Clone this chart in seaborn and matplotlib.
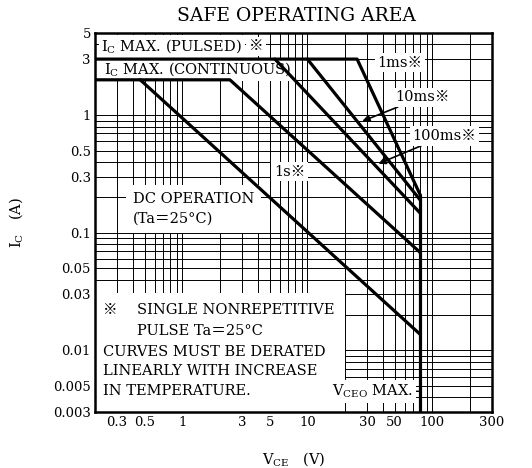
import matplotlib
matplotlib.use("Agg")
import matplotlib.pyplot as plt
import matplotlib.ticker as mticker
from matplotlib.patches import Rectangle
import numpy as np
import pandas as pd
import seaborn as sns

# 曲線資料 (VCE [V], IC [A])
ms1_vce = [0.2, 25, 80]
ms1_ic = [3, 3, 0.21]
ms10_vce = [10, 80]
ms10_ic = [3, 0.19]
ms100_vce = [5.5, 80]
ms100_ic = [3, 0.147]
s1_vce = [0.2, 2.4, 80]
s1_ic = [2, 2, 0.068]
dc_vce = [0.46, 80]
dc_ic = [2, 0.0137]
vceo_vce = [80, 80]
vceo_ic = [0.21, 0.003]

x_ticks = [0.3, 0.5, 1, 3, 5, 10, 30, 50, 100, 300]
x_ticklabels = ["0.3", "0.5", "1", "3", "5", "10", "30", "50", "100", "300"]
y_ticks = [0.003, 0.005, 0.01, 0.03, 0.05, 0.1, 0.3, 0.5, 1, 3, 5]
y_ticklabels = ["0.003", "0.005", "0.01", "0.03", "0.05", "0.1", "0.3", "0.5", "1", "3", "5"]

sns.set_theme(style="white")
plt.rcParams["font.family"] = ["DejaVu Serif", "Noto Sans CJK JP"]
plt.rcParams["mathtext.fontset"] = "dejavuserif"
plt.rcParams["text.color"] = "black"
plt.rcParams["axes.labelcolor"] = "black"

curves = {
    "1ms": (ms1_vce, ms1_ic),
    "10ms": (ms10_vce, ms10_ic),
    "100ms": (ms100_vce, ms100_ic),
    "1s": (s1_vce, s1_ic),
    "DC": (dc_vce, dc_ic),
    "VCEO": (vceo_vce, vceo_ic),
}
rows = []
for name, (xs, ys) in curves.items():
    for i, (xv, yv) in enumerate(zip(xs, ys)):
        rows.append({"curve": name, "order": i, "vce": xv, "ic": yv})
df = pd.DataFrame(rows)

fig = plt.figure(figsize=(5.32, 4.68), dpi=100)
ax = fig.add_axes([95 / 532, 56 / 468, 397 / 532, 379 / 468])
ax.set_xscale("log")
ax.set_yscale("log")

sns.lineplot(data=df, x="vce", y="ic", units="curve", estimator=None, sort=False,
             color="black", lw=2.3, ax=ax, zorder=5)

ax.set_xlim(0.2, 300)
ax.set_ylim(0.003, 5)

ax.xaxis.set_major_locator(mticker.FixedLocator(x_ticks))
ax.xaxis.set_major_formatter(mticker.FixedFormatter(x_ticklabels))
ax.yaxis.set_major_locator(mticker.FixedLocator(y_ticks))
ax.yaxis.set_major_formatter(mticker.FixedFormatter(y_ticklabels))
ax.xaxis.set_minor_locator(mticker.LogLocator(base=10, subs=np.arange(1, 10), numticks=30))
ax.yaxis.set_minor_locator(mticker.LogLocator(base=10, subs=np.arange(1, 10), numticks=30))
ax.xaxis.set_minor_formatter(mticker.NullFormatter())
ax.yaxis.set_minor_formatter(mticker.NullFormatter())
ax.tick_params(which="both", length=0, labelsize=9.5, colors="black", pad=3)
ax.grid(which="both", color="black", lw=0.7)
ax.set_axisbelow(True)
for sp in ax.spines.values():
    sp.set_color("black")
    sp.set_linewidth(1.8)

ax.set_xlabel(r"V$_\mathrm{CE}$   (V)", fontsize=10.5, labelpad=15, color="black")
ax.set_ylabel(r"I$_\mathrm{C}$   (A)", fontsize=10.5, labelpad=20, color="black")

fig.text(0.557, 0.965, "SAFE OPERATING AREA", ha="center", va="center", fontsize=13.5)

box = dict(facecolor="white", edgecolor="none", pad=2)
fs = 10.5
t = ax.text(0.225, 3.85, r"I$_\mathrm{C}$ MAX. (PULSED)", fontsize=fs, va="center", bbox=box, zorder=3)
ax.annotate("※", xy=(1, 0.5), xycoords=t, xytext=(5, 0), textcoords="offset points",
            fontsize=fs, va="center", bbox=box, zorder=3)
ax.text(0.235, 2.45, r"I$_\mathrm{C}$ MAX. (CONTINUOUS)", fontsize=fs, va="center", bbox=box, zorder=3)
ax.text(55, 2.8, "1ms※", fontsize=fs, ha="center", va="center", bbox=box, zorder=3)
ax.annotate("10ms※", xy=(27.5, 0.89), xytext=(83, 1.42), fontsize=fs, ha="center", va="center",
            bbox=box, zorder=3,
            arrowprops=dict(arrowstyle="-|>", color="black", lw=1.2, shrinkA=0, shrinkB=0))
ax.annotate("100ms※", xy=(37, 0.387), xytext=(125, 0.666), fontsize=fs, ha="center", va="center",
            bbox=box, zorder=3,
            arrowprops=dict(arrowstyle="-|>", color="black", lw=1.2, shrinkA=0, shrinkB=0))
ax.text(7.2, 0.332, "1s※", fontsize=fs, ha="center", va="center", bbox=box, zorder=3)
ax.text(0.4, 0.16, "DC OPERATION\n(Ta＝25°C)", fontsize=fs, va="center", linespacing=1.5,
        bbox=dict(facecolor="white", edgecolor="none", pad=5), zorder=3)

ax.add_patch(Rectangle((0, 0), 0.63, 0.314, transform=ax.transAxes, facecolor="white",
                       edgecolor="none", zorder=2))
ax.text(0.233, 0.0222, "※", fontsize=fs, va="center", zorder=3)
ax.text(0.436, 0.0222, "SINGLE NONREPETITIVE", fontsize=fs, va="center", zorder=3)
ax.text(0.436, 0.0147, "PULSE Ta＝25°C", fontsize=fs, va="center", zorder=3)
ax.text(0.233, 0.0098, "CURVES MUST BE DERATED", fontsize=fs, va="center", zorder=3)
ax.text(0.233, 0.00667, "LINEARLY WITH INCREASE", fontsize=fs, va="center", zorder=3)
ax.text(0.233, 0.00452, "IN TEMPERATURE.", fontsize=fs, va="center", zorder=3)
ax.annotate(r"V$_\mathrm{CEO}$ MAX.", xy=(80, 0.0045), xytext=(70, 0.0045), fontsize=fs,
            ha="right", va="center", bbox=box, zorder=3,
            arrowprops=dict(arrowstyle="-", color="black", lw=1, shrinkA=0, shrinkB=0))

fig.savefig("out.png", dpi=100)
